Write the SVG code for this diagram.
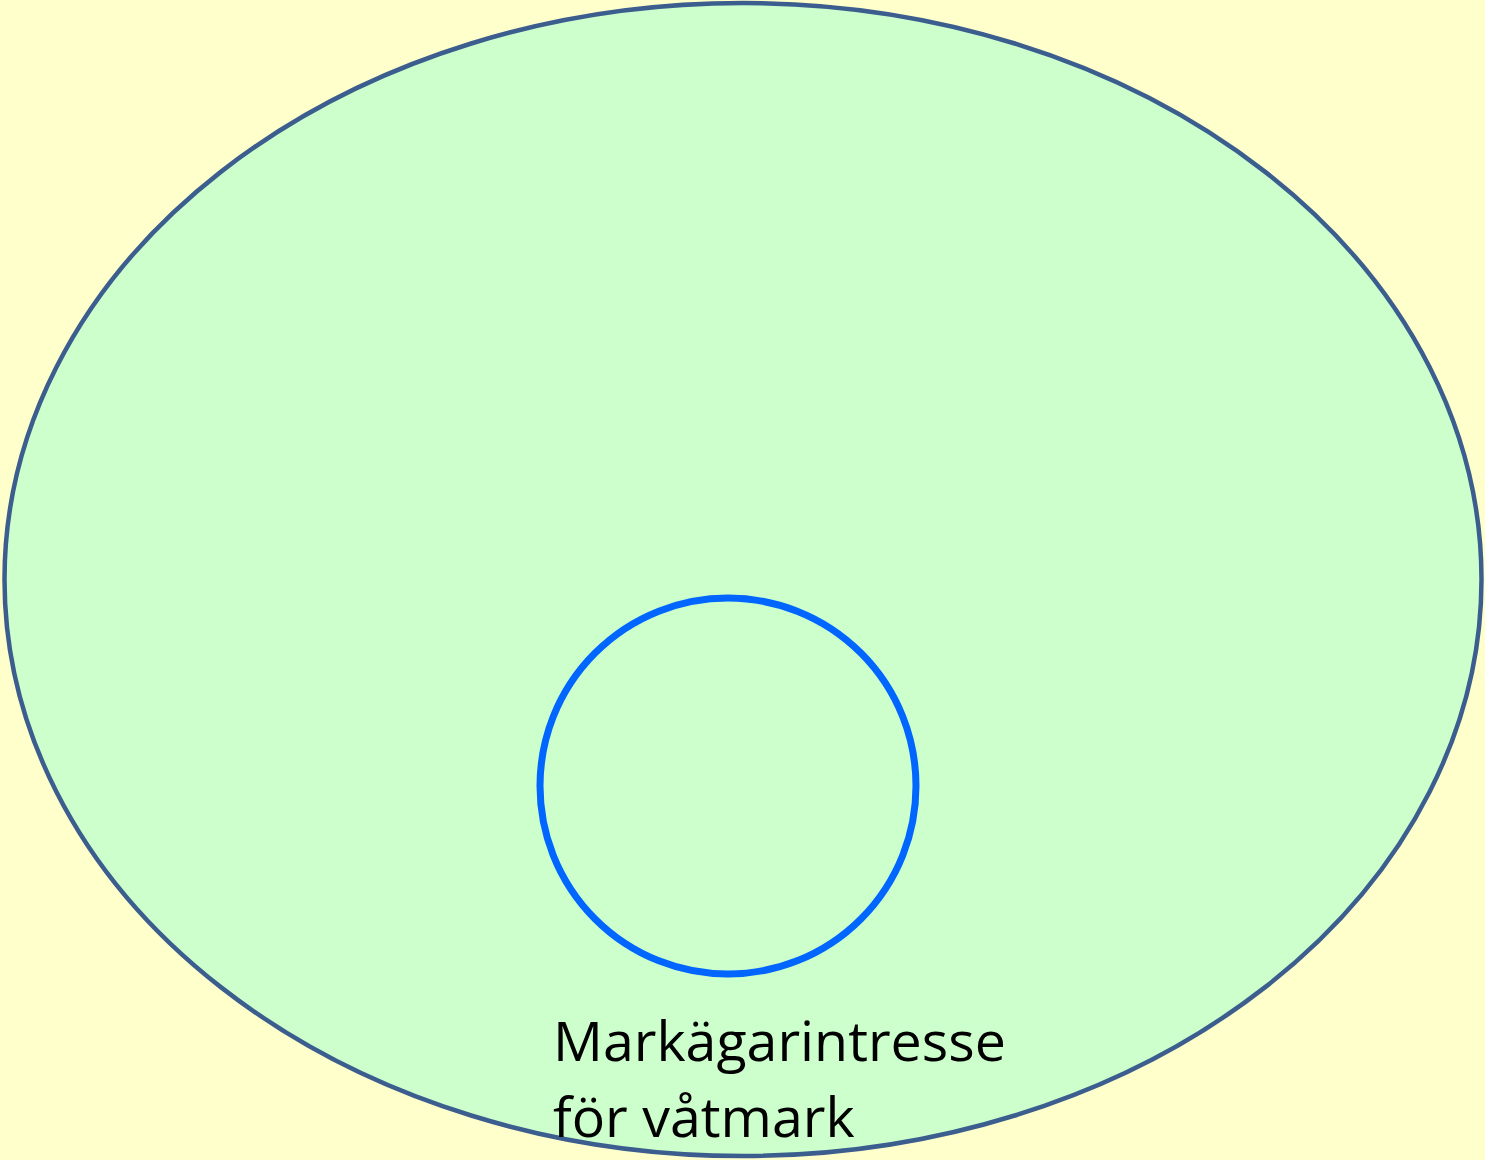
<svg xmlns="http://www.w3.org/2000/svg" width="1485" height="1160" viewBox="0 0 1485 1160">
<style>
.lbl{font-family:"Open Sans","Liberation Sans",sans-serif;font-size:55.5px;fill:#000}
</style>
<rect width="1485" height="1160" fill="#FFFFCC"/>
<g id="outer">
<ellipse cx="743" cy="579.5" rx="738.5" ry="576.5" fill="#CCFFCC" stroke="#3B5E8F" stroke-width="4.5"/>
</g>
<g id="inner">
<circle cx="728" cy="786" r="188" fill="none" stroke="#0066FF" stroke-width="7"/>
</g>
<g id="label">
<text class="lbl" x="553" y="1061">Markägarintresse</text>
<text class="lbl" x="553" y="1137">för våtmark</text>
</g>
<g id="connectors"/>
</svg>
